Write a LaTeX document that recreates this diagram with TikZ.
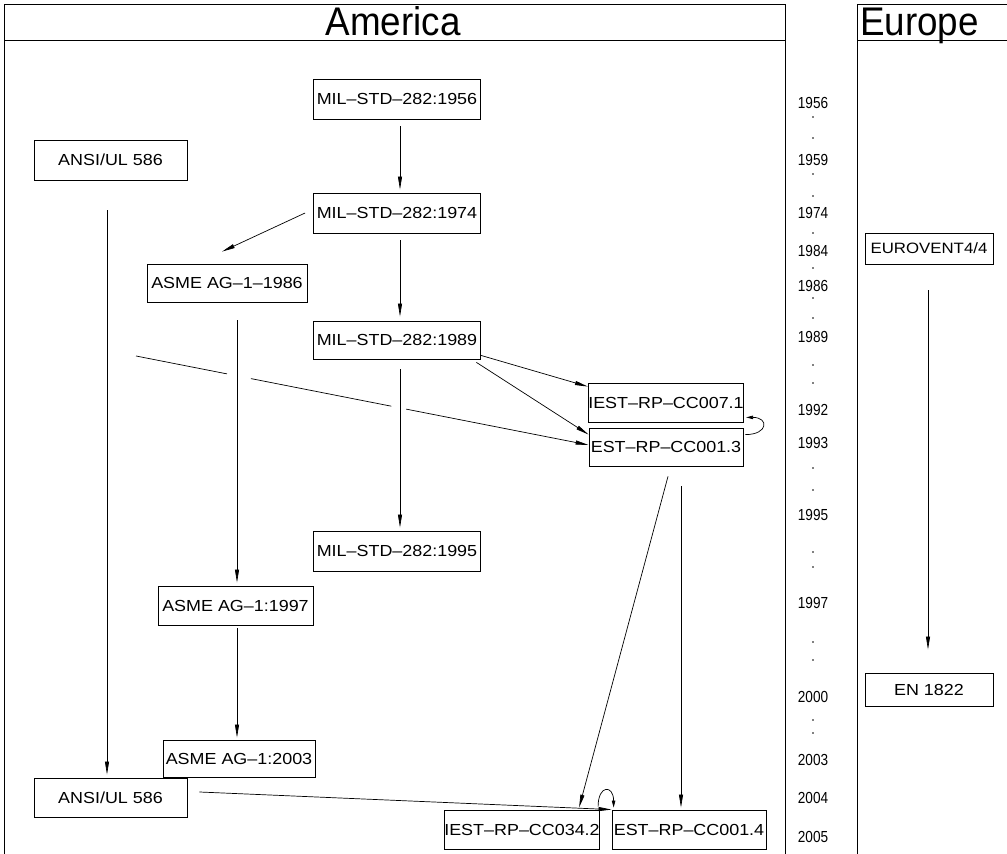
\documentclass[tikz,border=0pt]{standalone}
\usepackage{fontspec}
\setmainfont{Liberation Sans}
\newfontfamily\boxfont[FakeStretch=1.12]{Liberation Sans}
\newfontfamily\yearfont[FakeStretch=0.85]{Liberation Sans}
\newfontfamily\titlefont[FakeStretch=0.92]{Liberation Sans}
\usepackage{tikz}
\usetikzlibrary{arrows.meta,positioning,calc}

\tikzset{
    frame/.style={line width=0.8pt},
    stdbox/.style={draw, line width=0.8pt, inner sep=0pt, minimum height=39pt,
        font=\boxfont\fontsize{16}{18}\selectfont},
    yearlbl/.style={inner sep=0pt, font=\yearfont\fontsize{16}{18}\selectfont},
    titlelbl/.style={inner sep=0pt, font=\titlefont\fontsize{40}{44}\selectfont},
    arr/.style={line width=0.7pt, -{Triangle[length=13pt,width=4pt]}},
    looparr/.style={line width=0.7pt, -{Triangle[length=7pt,width=3.5pt]}}
}

\begin{document}
\begin{tikzpicture}[x=1pt,y=1pt]
    \useasboundingbox (0,0) rectangle (1007,854);

    % panels
    \draw[frame] (4,-2) -- (4,850) -- (785,850) -- (785,-2);
    \draw[frame] (4,814) -- (785,814);
    \draw[frame] (1010,850) -- (857,850) -- (857,-2);
    \draw[frame] (857,814) -- (1010,814);
    \node[titlelbl, anchor=base] (america) at (393,818) {America};
    \node[titlelbl, anchor=base west] (europe) at (860,818) {Europe};

    % America
    \node[stdbox, minimum width=167pt, minimum height=40pt] (m56) at (397,755) {MIL–STD–282:1956};
    \node[stdbox, minimum width=153pt, minimum height=40pt] (ul86) at (110.5,694) {ANSI/UL 586};
    \node[stdbox, minimum width=167pt, minimum height=40pt] (m74) at (397,641) {MIL–STD–282:1974};
    \node[stdbox, minimum width=160pt, minimum height=38pt] (a86) at (227,571) {ASME AG–1–1986};
    \node[stdbox, minimum width=167pt, minimum height=38pt] (m89) at (397,514) {MIL–STD–282:1989};
    \node[stdbox, minimum width=154pt] (i071) at (666,451.5) {IEST–RP–CC007.1};
    \node[stdbox, minimum width=154pt, minimum height=38pt] (e013) at (666,407) {EST–RP–CC001.3};
    \node[stdbox, minimum width=167pt, minimum height=40pt] (m95) at (397,303) {MIL–STD–282:1995};
    \node[stdbox, minimum width=155pt] (a97) at (235.5,248.5) {ASME AG–1:1997};
    \node[stdbox, minimum width=152pt, minimum height=37pt] (a03) at (239,95.5) {ASME AG–1:2003};
    \node[stdbox, minimum width=153pt] (ul04) at (110.5,56.5) {ANSI/UL 586};
    \node[stdbox, minimum width=154pt] (i342) at (522,24.5) {IEST–RP–CC034.2};
    \node[stdbox, minimum width=154pt] (e014) at (689,24.5) {EST–RP–CC001.4};

    % Europe
    \node[stdbox, minimum width=128pt, minimum height=31pt, font=\boxfont\fontsize{15}{17}\selectfont] (ev44) at (929,605.5) {EUROVENT4/4};
    \node[stdbox, minimum width=128pt, minimum height=33pt] (en22) at (929,164.5) {EN 1822};

    % years
    \foreach \yr/\y in {1956/103,1959/160,1974/213,1984/251,1986/286,1989/337,1992/410,1993/443,
                        1995/515,1997/603,2000/697,2003/760,2004/798,2005/837}
        \node[yearlbl] (y\yr) at (813,{854-\y}) {\yr};
    \foreach \y in {117,138,174,196,233,268,298,318,365,383,468,490,552,567,642,660,720,733}
        \fill (813,{854-\y}) circle (0.9pt);

    % connectors
    \draw[arr, shorten <=7pt, shorten >=3pt] ([xshift=3pt]m56.south) -- ([xshift=3pt]m74.north);
    \draw[arr] ([xshift=-8pt]m74.west) -- ([xshift=-5pt,yshift=12pt]a86.north);
    \draw[arr, shorten <=7pt, shorten >=4pt] ([xshift=3pt]m74.south) -- ([xshift=3pt]m89.north);
    \draw[arr] ([yshift=4pt]m89.south east) -- ([yshift=-4pt]i071.north west);
    \draw[arr] ([xshift=-4.5pt,yshift=-3pt]m89.south east) -- ([yshift=-7pt]e013.north west);
    \draw[arr, shorten <=10pt, shorten >=3pt] ([xshift=3pt]m89.south) -- ([xshift=3pt]m95.north);

    \coordinate (ulhop) at (136,498);
    \draw[line width=0.7pt] (ulhop) -- ($(ulhop)!0.201!([yshift=2pt]e013.west)$);
    \draw[line width=0.7pt] ($(ulhop)!0.254!([yshift=2pt]e013.west)$) -- ($(ulhop)!0.564!([yshift=2pt]e013.west)$);
    \draw[arr] ($(ulhop)!0.597!([yshift=2pt]e013.west)$) -- ([yshift=2pt]e013.west);

    \draw[arr, shorten <=30pt, shorten >=3pt] ([xshift=-3.5pt]ul86.south) -- ([xshift=-3.5pt]ul04.north);
    \draw[arr, shorten <=18pt, shorten >=3pt] ([xshift=10pt]a86.south) -- ([xshift=1.5pt]a97.north);
    \draw[arr, shorten <=3pt, shorten >=2pt] ([xshift=1.5pt]a97.south) -- ([xshift=-2pt]a03.north);

    \draw[arr] ([xshift=2pt,yshift=-10pt]e013.south) -- ([xshift=-21pt,yshift=2pt]i342.north east);
    \draw[arr] ([xshift=15pt,yshift=-20pt]e013.south) -- ([xshift=-8pt,yshift=2pt]e014.north);
    \draw[arr] ([xshift=12pt,yshift=5.5pt]ul04.east) -- (e014.north west);

    \draw[looparr] ([xshift=-2pt,yshift=3pt]i342.north east) .. controls ([xshift=-2pt,yshift=25pt]i342.north east) and ([xshift=2pt,yshift=25pt]e014.north west) .. ([xshift=2pt,yshift=2pt]e014.north west);
    \draw[looparr, {Triangle[length=7pt,width=3.5pt]}-] ([xshift=2pt,yshift=5pt]i071.south east) .. controls ([xshift=25pt,yshift=5pt]i071.south east) and ([xshift=25pt,yshift=-7pt]e013.north east) .. ([xshift=2pt,yshift=-7pt]e013.north east);

    \draw[arr, shorten <=26pt, shorten >=23pt] ([xshift=-1pt]ev44.south) -- ([xshift=-1pt]en22.north);
\end{tikzpicture}
\end{document}
